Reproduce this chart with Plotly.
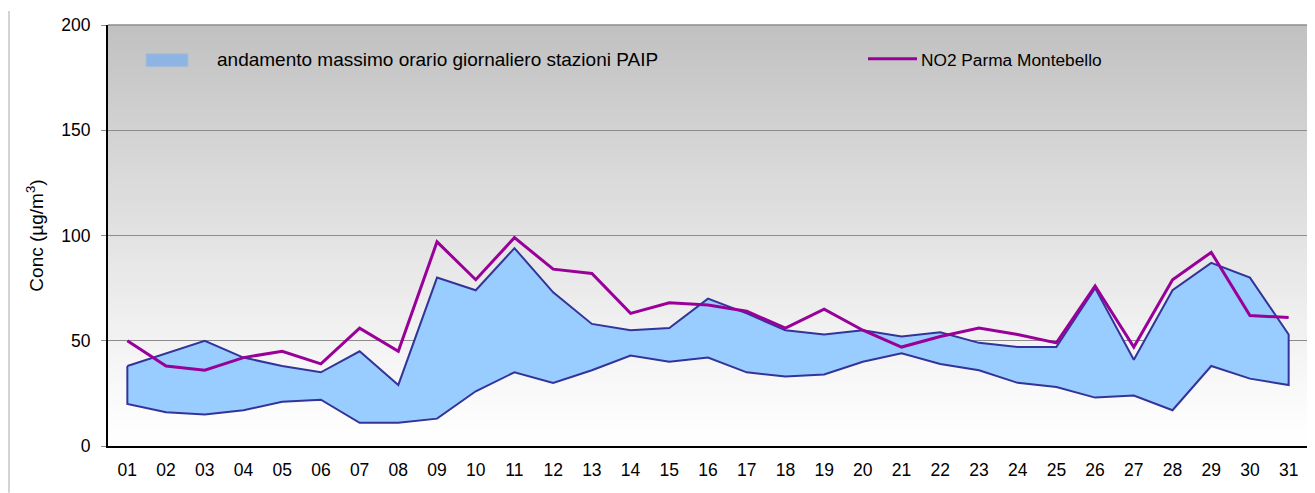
import plotly.graph_objects as go

# ---- data ----
days = [f"{d:02d}" for d in range(1, 32)]
paip_max = [38, 44, 50, 42, 38, 35, 45, 29, 80, 74, 94, 73, 58, 55, 56, 70,
            63, 55, 53, 55, 52, 54, 49, 47, 47, 75, 41, 74, 87, 80, 53]
paip_min = [20, 16, 15, 17, 21, 22, 11, 11, 13, 26, 35, 30, 36, 43, 40, 42,
            35, 33, 34, 40, 44, 39, 36, 30, 28, 23, 24, 17, 38, 32, 29]
no2_montebello = [50, 38, 36, 42, 45, 39, 56, 45, 97, 79, 99, 84, 82, 63, 68, 67,
                  64, 56, 65, 55, 47, 52, 56, 53, 49, 76, 47, 79, 92, 62, 61]
y_ticks = [0, 50, 100, 150, 200]

legend_band = "andamento massimo orario giornaliero stazioni PAIP"
legend_line = "NO2 Parma Montebello"

# ---- geometry (page has an 8px body margin) ----
OFF = 8
W, H = 1315 - OFF, 493 - OFF
L, R, T, B = 100, 7, 14, 47
PW, PH = W - L - R, H - T - B
PLOT_LEFT, PLOT_TOP = OFF + L, OFF + T
FONT = "Liberation Sans, Arial, sans-serif"


def px(x):
    return (x - PLOT_LEFT) / PW


def py(y):
    return (PLOT_TOP + PH - y) / PH


fig = go.Figure()

# band polygon (max forward, min backward, closed)
band_x = days + days[::-1] + [days[0]]
band_y = paip_max + paip_min[::-1] + [paip_max[0]]
fig.add_trace(go.Scatter(
    x=band_x, y=band_y, mode="lines", fill="toself",
    fillcolor="#99CCFF", line=dict(color="#333399", width=2),
    name=legend_band, showlegend=False, hoverinfo="skip"))

fig.add_trace(go.Scatter(
    x=days, y=no2_montebello, mode="lines",
    line=dict(color="#990099", width=3),
    name=legend_line, showlegend=False))

shapes = []
# gradient background
N = 70
for i in range(N):
    t0 = i / N
    t1 = (i + 1) / N
    tm = (t0 + t1) / 2  # 0 at bottom, 1 at top
    v = int(round(255 - 63 * (tm ** 1.15)))
    shapes.append(dict(type="rect", xref="x domain", yref="y domain",
                       x0=0, x1=1, y0=t0, y1=min(1, t1 + 0.004),
                       fillcolor=f"rgb({v},{v},{v})", line=dict(width=0),
                       layer="below"))
# top & right borders
shapes.append(dict(type="line", xref="paper", yref="paper", x0=0, x1=1, y0=1, y1=1,
                   line=dict(color="#8c8c8c", width=1.5)))
shapes.append(dict(type="line", xref="paper", yref="paper", x0=1, x1=1, y0=0, y1=1,
                   line=dict(color="#8c8c8c", width=2)))
# outer left border
shapes.append(dict(type="line", xref="paper", yref="paper", x0=px(9), x1=px(9),
                   y0=py(OFF), y1=py(493), line=dict(color="#d4d4d4", width=2)))
# manual legend
shapes.append(dict(type="rect", xref="paper", yref="paper",
                   x0=px(146), x1=px(188), y0=py(64), y1=py(51),
                   fillcolor="#8DB4E2", line=dict(color="#a9bfd9", width=1)))
shapes.append(dict(type="line", xref="paper", yref="paper",
                   x0=px(868), x1=px(917), y0=py(56), y1=py(56),
                   line=dict(color="#990099", width=3)))

annotations = [
    dict(text=legend_band, xref="paper", yref="paper", x=px(215), y=py(57),
         xanchor="left", yanchor="middle", showarrow=False,
         font=dict(family=FONT, size=19, color="#000000")),
    dict(text=legend_line, xref="paper", yref="paper", x=px(919), y=py(57),
         xanchor="left", yanchor="middle", showarrow=False,
         font=dict(family=FONT, size=17.3, color="#000000")),
]

fig.update_layout(
    width=W, height=H,
    margin=dict(l=L, r=R, t=T, b=B, pad=0),
    paper_bgcolor="white", plot_bgcolor="white",
    font=dict(family=FONT, size=17.5, color="#000000"),
    shapes=shapes, annotations=annotations,
    showlegend=False,
    xaxis=dict(type="category", range=[-0.5, 30.5], showgrid=False,
               showline=True, linecolor="#000000", linewidth=2,
               ticks="", tickfont=dict(size=17.5), ticklabelstandoff=7,
               fixedrange=True),
    yaxis=dict(range=[0, 200], tickvals=y_ticks, showgrid=True,
               gridcolor="#8c8c8c", gridwidth=1, zeroline=False,
               showline=True, linecolor="#000000", linewidth=2,
               ticks="outside", ticklen=5, tickcolor="#8c8c8c",
               tickfont=dict(size=17.5), ticklabelstandoff=7,
               title=dict(text="Conc (µg/m<sup>3</sup>)", font=dict(size=19), standoff=13),
               fixedrange=True),
)

fig.write_html("out.html")
